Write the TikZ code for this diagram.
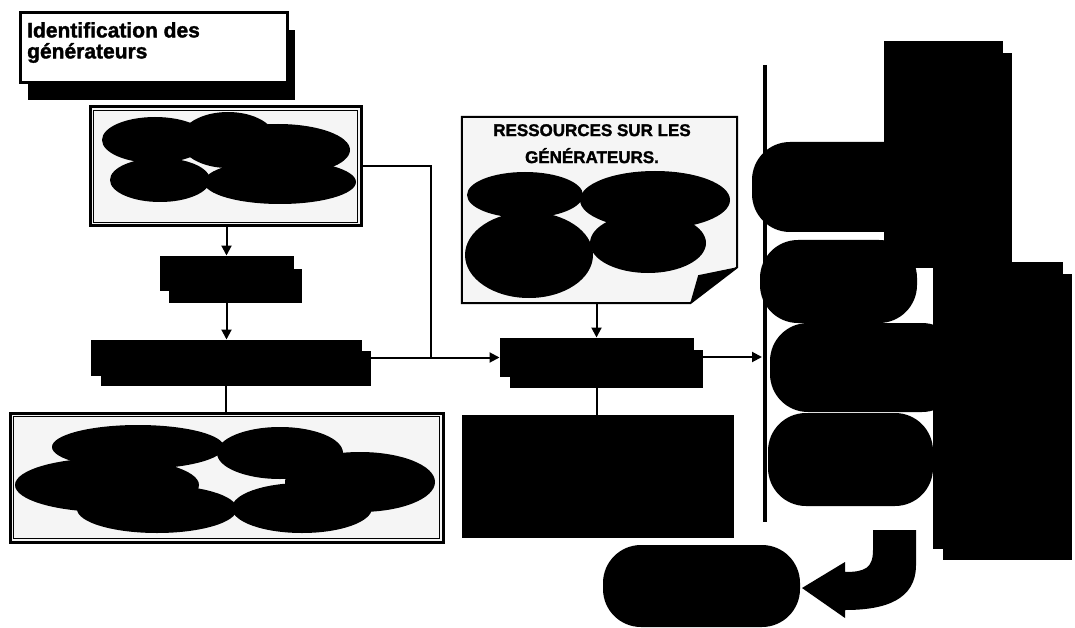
\documentclass[tikz,border=0pt]{standalone}
\usepackage{fontspec}
\setmainfont{Liberation Sans}
\newfontface\heavyfont{Liberation Sans Bold}[FakeBold=1.6]
\usetikzlibrary{arrows.meta,shadows,calc}
\begin{document}
\begin{tikzpicture}[x=1pt,y=-1pt,
  conn/.style={line width=2pt},
  arr/.style={line width=2pt,-{Triangle[length=10pt,width=10pt]}},
  framed/.style={draw=black, line width=3pt, fill=gray!8, inner sep=0pt},
  blk/.style={fill=black, draw=black, line width=1pt, inner sep=0pt},
  pill/.style={fill=black, rounded corners=38pt, inner sep=0pt},
  titlefont/.style={font=\heavyfont\fontsize{21}{21}\selectfont},
  resfont/.style={font=\heavyfont\fontsize{17}{27}\selectfont},
]
\useasboundingbox (0,0) rectangle (1075,628);

% ---- title
\node[framed, fill=white, minimum width=267pt, minimum height=70pt,
      drop shadow={shadow xshift=8pt,shadow yshift=-17pt,fill=black,opacity=1}]
      (title) at (153.5,48) {};
\node[titlefont, anchor=north west, align=left, inner sep=0pt] (titletext) at (27,22)
      {Identification des\\générateurs};

% ---- top-left cloud box
\node[framed, minimum width=271pt, minimum height=119pt] (topbox) at (225.5,166.5) {};
\draw[line width=1pt] ($(topbox.north west)+(5,5)$) rectangle ($(topbox.south east)+(-5,-5)$);
\fill (155,140) ellipse [x radius=53pt, y radius=23pt];
\fill (160,180) ellipse [x radius=50pt, y radius=22pt];
\fill (228,140) ellipse [x radius=48pt, y radius=28pt];
\fill (278,150) ellipse [x radius=72pt, y radius=26pt];
\fill (280,182) ellipse [x radius=76pt, y radius=22pt];

% ---- small and wide black boxes
\node[blk, minimum width=133pt, minimum height=34pt,
      drop shadow={shadow xshift=9pt,shadow yshift=-13pt,fill=black,opacity=1}]
      (smallbox) at (226.5,273) {};
\node[blk, minimum width=270pt, minimum height=35pt,
      drop shadow={shadow xshift=10pt,shadow yshift=-11pt,fill=black,opacity=1}]
      (widebox) at (226,357.5) {};

% ---- bottom-left cloud box
\node[framed, minimum width=433pt, minimum height=129pt] (bottombox) at (226.5,477.5) {};
\draw[line width=1pt] ($(bottombox.north west)+(5,5)$) rectangle ($(bottombox.south east)+(-5,-5)$);
\fill (138,447) ellipse [x radius=86pt, y radius=22pt];
\fill (107,485) ellipse [x radius=92pt, y radius=27pt];
\fill (157,509) ellipse [x radius=80pt, y radius=24pt];
\fill (280,453) ellipse [x radius=63pt, y radius=26pt];
\fill (360,482) ellipse [x radius=75pt, y radius=30pt];
\fill (302,508) ellipse [x radius=70pt, y radius=25pt];

% ---- resources box (folded corner)
\node[minimum width=275pt, minimum height=186pt, inner sep=0pt] (resbox) at (599.5,210) {};
\draw[line width=2pt, fill=gray!8] (resbox.north west) -- (resbox.north east)
   -- ($(resbox.south east)+(0,-36)$) -- ($(resbox.south east)+(-47,0)$)
   -- (resbox.south west) -- cycle;
\fill ($(resbox.south east)+(0,-36)$) -- ($(resbox.south east)+(-39,-28)$)
   -- ($(resbox.south east)+(-47,0)$) -- cycle;
\node[resfont, anchor=north, align=center, inner sep=0pt] (restitle) at (592,124)
      {RESSOURCES SUR LES\\GÉNÉRATEURS.};
\fill (525,195) ellipse [x radius=58pt, y radius=23pt];
\fill (655,200) ellipse [x radius=75pt, y radius=29pt];
\fill (529,255) ellipse [x radius=64pt, y radius=43pt];
\fill (648,243) ellipse [x radius=58pt, y radius=30pt];

% ---- middle boxes
\node[blk, minimum width=193pt, minimum height=38pt,
      drop shadow={shadow xshift=10pt,shadow yshift=-12pt,fill=black,opacity=1}]
      (midbox) at (596.5,357) {};
\node[blk, minimum width=271pt, minimum height=122pt] (bigblack) at (597.5,476) {};

% ---- vertical bar
\coordinate (vtop) at (765,65);
\coordinate (vbot) at (765,522);
\draw[line width=4pt] (vtop) -- (vbot);

% ---- right column
\node[pill, minimum width=178pt, minimum height=90pt] (s1) at (841,187) {};
\node[pill, minimum width=157pt, minimum height=83pt] (s2) at (838.5,281.5) {};
\node[pill, minimum width=190pt, minimum height=89pt] (s3) at (865,367.5) {};
\node[pill, minimum width=165pt, minimum height=93pt] (s4) at (850.5,459.5) {};
\node[blk, minimum width=118pt, minimum height=215pt,
      drop shadow={shadow xshift=10pt,shadow yshift=-11pt,fill=black,opacity=1}]
      (tallrect) at (943,149.5) {};
\node[blk, minimum width=129pt, minimum height=286pt,
      drop shadow={shadow xshift=10pt,shadow yshift=-12pt,fill=black,opacity=1}]
      (rightrect) at (997.5,405) {};

% ---- bottom pill and bent arrow
\node[pill, minimum width=197pt, minimum height=82pt] (endpill) at (701.5,586) {};
\fill (873,530) -- (916,530) -- (916,565)
   .. controls (916,600) and (885,610) .. (845,610)
   -- (845,618) -- (802,588) -- (845,562) -- (845,572)
   .. controls (865,572) and (873,568) .. (873,550) -- cycle;

% ---- connectors
\draw[arr] (topbox.south -| smallbox.north) -- (smallbox.north);
\draw[arr] (smallbox.south) -- (smallbox.south |- widebox.north);
\draw[conn] (widebox.south) -- (widebox.south |- bottombox.north);
\coordinate (j) at (431,357.5);
\draw[conn] (topbox.east) -| (j);
\draw[arr] (widebox.east) -- (widebox.east -| midbox.west);
\draw[arr] (resbox.south -| midbox.north) -- (midbox.north);
\draw[conn] (midbox.south) -- (midbox.south |- bigblack.north);
\draw[arr, shorten >=3pt] (midbox.east) -- (midbox.east -| vtop);
\end{tikzpicture}
\end{document}
